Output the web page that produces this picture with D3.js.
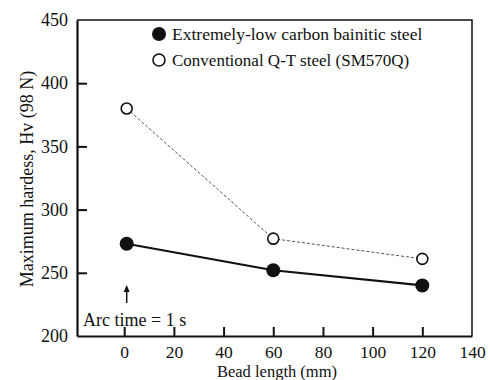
<!DOCTYPE html>
<html>
<head>
<meta charset="utf-8">
<script src="https://cdn.jsdelivr.net/npm/d3@7"></script>
<style>
  html, body { margin: 0; padding: 0; background: #fff; }
  svg text { font-family: "Liberation Serif", "Times New Roman", serif; fill: #111; }
</style>
</head>
<body>
<svg id="chart" width="490" height="380"></svg>
<script>
// Bead length (mm) of each test bead
const beadLength = [1, 60, 120];
// Maximum hardness Hv (98 N)
const bainiticHardness = [273, 252, 240];
const conventionalHardness = [380, 277, 261];
const seriesNames = ["Extremely-low carbon bainitic steel", "Conventional Q-T steel (SM570Q)"];
const xTicks = [0, 20, 40, 60, 80, 100, 120, 140];
const yTicks = [200, 250, 300, 350, 400, 450];

const W = 490, H = 380;
const margin = { top: 20, right: 18, bottom: 44, left: 77 };
const svg = d3.select("#chart");

const x = d3.scaleLinear().domain([-19, 140]).range([margin.left, W - margin.right]);
const y = d3.scaleLinear().domain([200, 450]).range([H - margin.bottom, margin.top]);

// frame: top and right edges
svg.append("path")
  .attr("d", `M${x(-19)},${y(450)}H${x(140)}V${y(200)}`)
  .attr("fill", "none").attr("stroke", "#111").attr("stroke-width", 1.5);

// x axis with inward ticks
const xAxis = svg.append("g")
  .attr("transform", `translate(0,${y(200)})`)
  .call(d3.axisBottom(x).tickValues(xTicks).tickSizeInner(-9).tickSizeOuter(0).tickPadding(10));
xAxis.select(".domain").attr("stroke-width", 2.2).attr("stroke", "#111");
xAxis.selectAll(".tick line").attr("stroke-width", 2).attr("stroke", "#111");
xAxis.selectAll(".tick").filter(d => d === 140).select("line").remove();
xAxis.selectAll("text").attr("font-size", 17.5).attr("font-family", "Liberation Serif").attr("fill", "#111");

// y axis with inward ticks
const yAxis = svg.append("g")
  .attr("transform", `translate(${x(-19)},0)`)
  .call(d3.axisLeft(y).tickValues(yTicks).tickSizeInner(-10).tickSizeOuter(0).tickPadding(9));
yAxis.select(".domain").attr("stroke-width", 2.2).attr("stroke", "#111");
yAxis.selectAll(".tick line").attr("stroke-width", 2).attr("stroke", "#111");
yAxis.selectAll(".tick").filter(d => d === 200 || d === 450).select("line").remove();
yAxis.selectAll("text").attr("font-size", 18).attr("font-family", "Liberation Serif").attr("fill", "#111");

// axis titles
svg.append("text")
  .attr("x", 277).attr("y", 377)
  .attr("text-anchor", "middle").attr("font-size", 16.5)
  .text("Bead length (mm)");
svg.append("text")
  .attr("transform", `translate(33,179) rotate(-90)`)
  .attr("text-anchor", "middle").attr("font-size", 18)
  .text("Maximum hardess, Hv (98 N)");

const line = d3.line().x(d => x(d[0])).y(d => y(d[1]));
const convPts = beadLength.map((b, i) => [b, conventionalHardness[i]]);
const bainPts = beadLength.map((b, i) => [b, bainiticHardness[i]]);

// conventional steel: thin dotted line, open circles
svg.append("path").datum(convPts)
  .attr("d", line).attr("fill", "none")
  .attr("stroke", "#555").attr("stroke-width", 1).attr("stroke-dasharray", "3,2");
// bainitic steel: solid line, filled circles
svg.append("path").datum(bainPts)
  .attr("d", line).attr("fill", "none")
  .attr("stroke", "#111").attr("stroke-width", 2.2);

svg.selectAll(".conv").data(convPts).enter().append("circle")
  .attr("cx", d => x(d[0])).attr("cy", d => y(d[1])).attr("r", 5.5)
  .attr("fill", "#fff").attr("stroke", "#111").attr("stroke-width", 1.6);
svg.selectAll(".bain").data(bainPts).enter().append("circle")
  .attr("cx", d => x(d[0])).attr("cy", d => y(d[1])).attr("r", 7)
  .attr("fill", "#111");

// legend
svg.append("circle").attr("cx", 159).attr("cy", 34).attr("r", 7).attr("fill", "#111");
svg.append("circle").attr("cx", 159).attr("cy", 60).attr("r", 6)
  .attr("fill", "#fff").attr("stroke", "#111").attr("stroke-width", 1.6);
svg.append("text").attr("x", 172).attr("y", 40).attr("font-size", 17.5).text(seriesNames[0]);
svg.append("text").attr("x", 172).attr("y", 66).attr("font-size", 17).text(seriesNames[1]);

// arc-time annotation with arrow
const ax = x(beadLength[0]);
svg.append("line").attr("x1", ax).attr("x2", ax).attr("y1", 303).attr("y2", 290)
  .attr("stroke", "#111").attr("stroke-width", 1.5);
svg.append("path")
  .attr("d", `M${ax},285L${ax - 3},292L${ax + 3},292Z`).attr("fill", "#111");
svg.append("text").attr("x", 83).attr("y", 326).attr("font-size", 18).text("Arc time = 1 s");
</script>
</body>
</html>
